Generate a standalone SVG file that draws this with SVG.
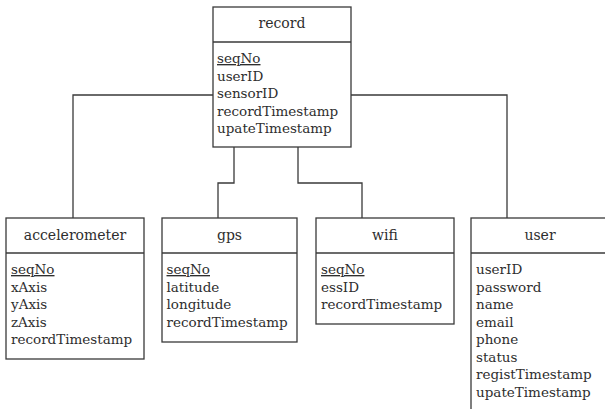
<svg xmlns="http://www.w3.org/2000/svg" width="605" height="409" viewBox="0 0 605 409">
<style>
.box{fill:#fff;stroke:#3a3a3a;stroke-width:1.3}
.div{stroke:#3a3a3a;stroke-width:1.3}
.conn{fill:none;stroke:#3a3a3a;stroke-width:1.3}
text{font-family:"DejaVu Serif","Liberation Serif",serif;font-size:13.5px;fill:#2e2e2e}
.t{text-anchor:middle;font-size:14px}
.u{text-decoration:underline}
</style>
<rect width="605" height="409" fill="#fff"/>
<g id="connectors">
<polyline class="conn" points="213,95 73,95 73,218"/>
<polyline class="conn" points="351,95 507,95 507,218"/>
<polyline class="conn" points="234,147 234,183 218,183 218,218"/>
<polyline class="conn" points="298,147 298,183 362,183 362,218"/>
</g>
<g id="record">
<rect class="box" x="213" y="7" width="138" height="140"/>
<line class="div" x1="213" y1="42" x2="351" y2="42"/>
<text class="t" x="282" y="28">record</text>
<text x="217" y="63" class="u">seqNo</text>
<text x="217" y="80.5">userID</text>
<text x="217" y="98">sensorID</text>
<text x="217" y="115.5">recordTimestamp</text>
<text x="217" y="133">upateTimestamp</text>
</g>
<g id="accelerometer">
<rect class="box" x="6" y="218" width="138" height="141"/>
<line class="div" x1="6" y1="253" x2="144" y2="253"/>
<text class="t" x="75" y="240">accelerometer</text>
<text x="11" y="274" class="u">seqNo</text>
<text x="11" y="291.5">xAxis</text>
<text x="11" y="309">yAxis</text>
<text x="11" y="326.5">zAxis</text>
<text x="11" y="344">recordTimestamp</text>
</g>
<g id="gps">
<rect class="box" x="162" y="218" width="135" height="124"/>
<line class="div" x1="162" y1="253" x2="297" y2="253"/>
<text class="t" x="229.5" y="240">gps</text>
<text x="166.5" y="274" class="u">seqNo</text>
<text x="166.5" y="291.5">latitude</text>
<text x="166.5" y="309">longitude</text>
<text x="166.5" y="326.5">recordTimestamp</text>
</g>
<g id="wifi">
<rect class="box" x="316" y="218" width="138" height="106"/>
<line class="div" x1="316" y1="253" x2="454" y2="253"/>
<text class="t" x="385" y="240">wifi</text>
<text x="321" y="274" class="u">seqNo</text>
<text x="321" y="291.5">essID</text>
<text x="321" y="309">recordTimestamp</text>
</g>
<g id="user">
<rect class="box" x="471" y="218" width="145" height="200"/>
<line class="div" x1="471" y1="253" x2="605" y2="253"/>
<text class="t" x="540" y="240">user</text>
<text x="476" y="274">userID</text>
<text x="476" y="291.5">password</text>
<text x="476" y="309">name</text>
<text x="476" y="326.5">email</text>
<text x="476" y="344">phone</text>
<text x="476" y="361.5">status</text>
<text x="476" y="379">registTimestamp</text>
<text x="476" y="396.5">upateTimestamp</text>
</g>
</svg>
